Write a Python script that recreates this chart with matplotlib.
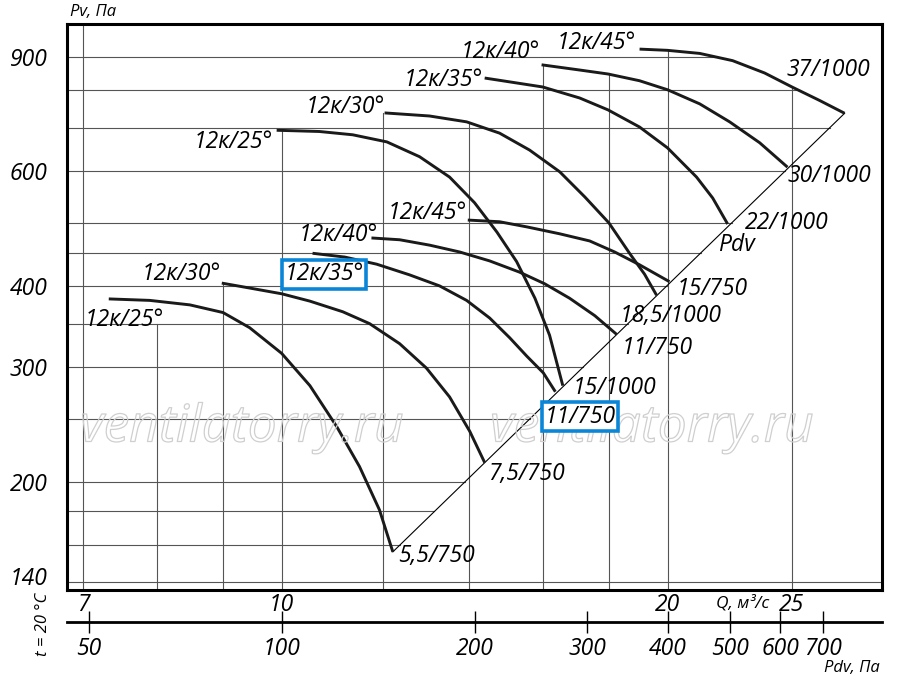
import numpy as np
import matplotlib.pyplot as plt
from matplotlib import patheffects as pe
from matplotlib.ticker import NullLocator
from matplotlib.transforms import ScaledTranslation

plt.rcParams['font.family'] = ['Open Sans', 'DejaVu Sans']
plt.rcParams['font.style'] = 'italic'

# Кривые вентилятора, Q (м³/с) и Pv (Па), n = 750 об/мин
q_750_25 = [7.33, 7.89, 8.48, 9.0, 9.44, 10.0, 10.52, 11.04, 11.50, 11.92, 12.21]
p_750_25 = [382, 380, 374, 364, 345, 315, 281, 243, 211, 181, 156]
q_750_30 = [8.98, 9.44, 10.0, 10.52, 11.16, 11.71, 12.36, 12.97, 13.52, 14.02, 14.40]
p_750_30 = [404, 397, 389, 379, 365, 350, 326, 299, 270, 239, 214]
q_750_35 = [10.57, 11.20, 11.86, 12.58, 13.28, 13.94, 14.53, 15.06, 15.53, 16.0, 16.35]
p_750_35 = [449, 443, 432, 416, 400, 380, 357, 333, 312, 294, 275]
q_750_40 = [11.75, 12.36, 13.05, 13.77, 14.53, 15.33, 16.04, 16.77, 17.55, 18.25]
p_750_40 = [474, 471, 462, 451, 437, 420, 403, 383, 360, 337]
q_750_45 = [13.97, 14.79, 15.53, 16.48, 17.39, 18.19, 19.02, 20.07]
p_750_45 = [505, 502, 493, 481, 469, 451, 431, 406]

# n = 1000 об/мин
q_1000_25 = [9.91, 10.70, 11.36, 12.08, 12.81, 13.52, 14.14, 14.72, 15.25, 15.76, 16.18, 16.57]
p_1000_25 = [694, 691, 683, 666, 632, 588, 537, 484, 436, 383, 336, 281]
q_1000_30 = [12.03, 13.04, 13.94, 14.79, 15.61, 16.48, 17.24, 18.0, 18.68, 19.19, 19.61]
p_1000_30 = [738, 730, 715, 687, 647, 599, 548, 500, 449, 417, 387]
q_1000_35 = [14.40, 15.98, 17.08, 17.97, 19.02, 20.0, 21.07, 21.69, 22.28]
p_1000_35 = [835, 809, 778, 746, 702, 652, 588, 546, 498]
q_1000_40 = [15.95, 17.08, 17.97, 19.02, 20.0, 21.19, 22.36, 23.60, 24.81]
p_1000_40 = [875, 859, 847, 827, 801, 762, 715, 664, 609]
q_1000_45 = [19.02, 20.0, 21.19, 22.48, 23.81, 25.04, 26.29, 27.49]
p_1000_45 = [925, 921, 911, 888, 850, 808, 771, 737]

# линия динамического давления Pdv
pdv_q = [12.21, 27.49]
pdv_p = [156, 737]

angles = ['12к/25°', '12к/30°', '12к/35°', '12к/40°', '12к/45°']
motors_750 = ['5,5/750', '7,5/750', '11/750', '11/750', '15/750']
motors_1000 = ['15/1000', '18,5/1000', '22/1000', '30/1000', '37/1000']

y_ticks = [140, 200, 300, 400, 600, 900]
q_ticks = [7, 10, 20, 25]
pdv_ticks = [50, 100, 200, 300, 400, 500, 600, 700]

hgrid_p = [900, 800, 700, 600, 500, 450, 400, 350, 300, 250, 200, 180, 160, 140]
vgrid_q = [7, 8, 9, 10, 12, 14, 16, 18, 20, 25]
vgrid_top = [None, 350, 404, 694, 738, 715, 875, 850, 921, 807]

curves_750 = [(q_750_25, p_750_25), (q_750_30, p_750_30), (q_750_35, p_750_35),
              (q_750_40, p_750_40), (q_750_45, p_750_45)]
curves_1000 = [(q_1000_25, p_1000_25), (q_1000_30, p_1000_30), (q_1000_35, p_1000_35),
               (q_1000_40, p_1000_40), (q_1000_45, p_1000_45)]

# смещения подписей (пиксели)
start_off_750 = [('left', -24, -21), ('right', -1, 9), ('left', -28, -21), ('right', 6, 3), ('right', -1, 7)]
start_off_1000 = [('right', -4, -12), ('right', 0, 6), ('right', -2, -2), ('right', -2, 13), ('right', -4, 6)]
end_off_750 = [(5, -4), (3, -11), (-11, -25), (5, -14), (7, -7)]
end_off_1000 = [(10, -2), (-37, -21), (17, 1), (0, -9), (-58, 43)]
boxed_start = 2   # 12к/35° нижней группы
boxed_end = 2     # 11/750

xmin, xmax = 6.8, 29.4
ymin, ymax = 136.3, 1011
fs = 16.5

fig = plt.figure(figsize=(9, 6.93), dpi=100)
ax = fig.add_axes([67/900, 1 - 590/693, (882 - 67)/900, (590 - 24)/693])
ax.set_xscale('log')
ax.set_yscale('log')
ax.set_xlim(xmin, xmax)
ax.set_ylim(ymin, ymax)

grid_kw = dict(color='#555555', lw=0.8, zorder=1)

# горизонтальная сетка до линии Pdv / верхней кривой
edge_q = np.r_[pdv_q, q_1000_45[::-1][1:]]
edge_p = np.r_[pdv_p, p_1000_45[::-1][1:]]
for p in hgrid_p:
    if p < pdv_p[0]:
        q_end = xmax
    else:
        q_end = np.exp(np.interp(np.log(p), np.log(edge_p), np.log(edge_q)))
    ax.plot([xmin, q_end], [p, p], **grid_kw)

for q, top in zip(vgrid_q, vgrid_top):
    ax.plot([q, q], [ymin, top if top else ymax], **grid_kw)

ax.plot(pdv_q, pdv_p, color='black', lw=0.8, zorder=2)

# водяной знак (под рамками подписей)
for x0 in (80, 490):
    ax.text(x0/900, 1 - 428/693, 'ventilatorry.ru', fontsize=37, color='none',
            va='center', ha='left', transform=fig.transFigure, zorder=3.5,
            path_effects=[pe.Stroke(linewidth=0.9, foreground='#cfcfcf')])

box = dict(boxstyle='square,pad=0.1', fc='white', ec='#0a86d8', lw=2.6)

def draw_group(curves, motors, s_off, e_off, boxed=False):
    for i, (q, p) in enumerate(curves):
        ax.plot(q, p, color='#1a1a1a', lw=2.1, solid_capstyle='butt',
                solid_joinstyle='round', zorder=3)
        ha, dx, dy = s_off[i]
        ax.annotate(angles[i], (q[0], p[0]), xytext=(dx, dy), textcoords='offset pixels',
                    ha=ha, va='center', fontsize=fs, zorder=4,
                    bbox=box if (boxed and i == boxed_start) else None)
        dx, dy = e_off[i]
        ax.annotate(motors[i], (q[-1], p[-1]), xytext=(dx, dy), textcoords='offset pixels',
                    ha='left', va='center', fontsize=fs, zorder=4,
                    bbox=box if (boxed and i == boxed_end) else None)

draw_group(curves_750, motors_750, start_off_750, end_off_750, boxed=True)
draw_group(curves_1000, motors_1000, start_off_1000, end_off_1000)

ax.annotate('Pdv', (q_1000_35[-1], p_1000_35[-1]), xytext=(-10, -21), textcoords='offset pixels',
            ha='left', va='center', fontsize=fs)

for s in ax.spines.values():
    s.set_linewidth(2.2)

ax.set_yticks(y_ticks, [str(v) for v in y_ticks])
ax.set_xticks(q_ticks, [str(v) for v in q_ticks])
ax.xaxis.set_minor_locator(NullLocator())
ax.yaxis.set_minor_locator(NullLocator())
ax.tick_params(axis='y', length=0, pad=14, labelsize=fs)
ax.tick_params(axis='x', length=0, pad=2, labelsize=fs)
lab140 = ax.get_yticklabels()[0]
lab140.set_transform(lab140.get_transform() + ScaledTranslation(0, 6/100, fig.dpi_scale_trans))

ax.text(22.9, -0.024, 'Q, м³/с', transform=ax.get_xaxis_transform(),
        ha='center', va='center', fontsize=12.5)

sec = ax.secondary_xaxis(-0.0565, functions=(lambda q: q**2,
                                             lambda p: np.sqrt(np.clip(p, 1e-9, None))))
sec.set_xticks(pdv_ticks, [str(v) for v in pdv_ticks])
sec.xaxis.set_minor_locator(NullLocator())
sec.spines['bottom'].set_linewidth(2)
sec.tick_params(direction='inout', length=16, width=1, pad=3, labelsize=fs)

fig.text(70/900, 1 - 12/693, 'Pv, Па', fontsize=12, va='center', ha='left')
fig.text(880/900, 1 - 668/693, 'Pdv, Па', fontsize=12, va='center', ha='right')
fig.text(43/900, 1 - 624/693, 't = 20 °C', fontsize=12, rotation=90, va='center', ha='center')

fig.savefig('out.png', dpi=100, facecolor='white')
